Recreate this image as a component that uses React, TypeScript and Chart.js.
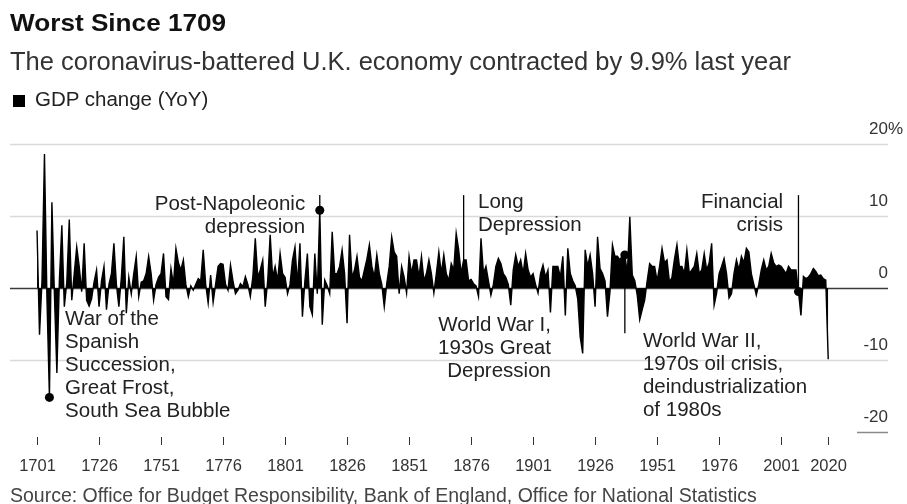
import React, { useEffect, useRef } from "react";
import { Chart, registerables } from "chart.js";

Chart.register(...registerables);

const FONT = "'Liberation Sans', Arial, Helvetica, sans-serif";

// ---------------- data ----------------
const firstYear = 1701;

// UK GDP change, % year on year, 1701 .. 2020
const gdpChange: number[] = [
  // 1701-1710
  8.0, -6.5, 1.0, 18.6, -1.5, -15.2, 11.9, -0.8, -11.8, 1.0,
  // 1711-1720
  8.7, -2.6, 0.8, 9.5, -1.7, 2.0, 5.7, 3.0, -0.5, 6.2,
  // 1721-1730
  -1.7, -2.5, -1.5, 0.8, 2.5, -2.6, 1.0, 3.0, -3.0, 0.5,
  // 1731-1740
  2.0, 6.2, 0.5, -2.6, 1.5, 7.1, -3.5, 1.5, -0.8, 2.0,
  // 1741-1750
  4.4, -1.2, 0.8, 1.0, 2.0, 4.4, 2.0, -1.7, 0.5, 1.5,
  // 1751-1760
  2.0, 4.8, -1.2, -1.6, 2.7, 0.5, 5.5, 3.5, 2.5, 3.9,
  // 1761-1770
  0.5, -1.2, 0.3, -0.3, 0.5, 1.3, 1.0, 5.3, 0.5, -2.1,
  // 1771-1780
  1.8, -2.0, 0.5, 3.0, 3.4, 3.3, 0.5, -0.3, 3.2, 1.0,
  // 1781-1790
  -0.8, -0.3, 0.6, 0.2, 1.6, 0.5, -1.2, 1.5, 6.9, 1.5,
  // 1791-1800
  2.5, 3.9, -2.6, 1.0, 7.4, 1.5, 3.0, 1.0, 4.8, 2.0,
  // 1801-1810
  1.5, -0.8, 0.5, 3.9, 5.7, 0.5, 6.2, -4.0, 1.0, 4.8,
  // 1811-1820
  -2.6, -3.7, 4.8, -0.8, 10.8, -5.1, 1.1, 0.3, -0.8, 7.8,
  // 1821-1830
  2.0, 2.0, 3.0, 5.3, 2.0, -4.9, 7.4, 1.5, 2.5, 4.4,
  // 1831-1840
  1.5, 1.0, 2.5, 4.0, 6.0, 3.0, 1.5, 4.6, 2.0, 0.5,
  // 1841-1850
  -2.6, 0.6, 3.0, 7.1, 5.0, 4.4, -0.8, 3.0, 1.5, -0.7,
  // 1851-1860
  4.4, 2.0, 3.9, 3.9, 1.5, 4.4, 1.0, 2.0, 3.9, 2.0,
  // 1861-1870
  -0.7, 2.0, 5.0, 2.0, 4.6, 2.0, 1.0, 3.4, 2.5, 7.6,
  // 1871-1880
  5.3, 2.0, 3.9, 3.9, 1.0, 1.2, 0.6, 0.3, -1.2, 6.9,
  // 1881-1890
  2.0, 3.0, 1.0, -1.0, 0.5, 3.0, 4.1, 3.4, 2.0, 1.5,
  // 1891-1900
  0.5, -2.4, 2.5, 4.6, 3.0, 3.9, 2.0, 4.8, 2.5, 1.5,
  // 1901-1910
  2.0, 0.5, -0.7, 2.0, 3.2, 1.5, 2.5, -3.4, 3.0, 3.0,
  // 1911-1920
  3.0, 1.5, 4.4, -3.8, 5.5, 2.0, 1.0, 0.3, -1.5, -6.8,
  // 1921-1930
  -9.1, 5.3, 3.0, 4.6, 2.0, -2.6, 7.1, 2.7, 2.0, 1.0,
  // 1931-1940
  -4.0, -0.5, 6.0, 4.4, 4.4, 3.9, 4.5, 4.6, 2.0, 9.9,
  // 1941-1950
  1.8, 1.0, -1.0, -4.4, -3.0, -1.7, 1.0, 3.4, 3.0, 3.0,
  // 1951-1960
  1.0, 3.0, 5.5, 3.5, 3.9, 0.8, 1.5, 4.0, 6.0, 3.0,
  // 1961-1970
  3.0, 2.0, 5.3, 2.0, 2.5, 3.0, 4.8, 2.0, 2.5, 4.8,
  // 1971-1980
  2.5, 3.5, 6.2, -2.4, -0.7, 2.0, 3.0, 4.1, 2.0, -1.4,
  // 1981-1990
  -0.8, 2.0, 3.9, 2.5, 4.4, 3.5, 5.5, 5.0, 2.0, 0.5,
  // 1991-2000
  -1.0, 0.5, 2.5, 3.9, 2.5, 3.0, 4.8, 3.5, 3.0, 3.2,
  // 2001-2010
  3.0, 2.5, 2.0, 3.0, 2.5, 2.5, 2.5, -0.5, -3.8, 1.6,
  // 2011-2020
  1.3, 1.5, 2.0, 2.7, 2.3, 1.7, 1.8, 1.3, 1.1, -9.9,
];

const years: number[] = gdpChange.map((_, i) => firstYear + i);

const xTickYears = [1701, 1726, 1751, 1776, 1801, 1826, 1851, 1876, 1901, 1926, 1951, 1976, 2001, 2020];
const yGridValues = [20, 10, 0, -10];
const yTickValues = [20, 10, 0, -10, -20];
const yTickLabels = ["20", "10", "0", "-10", "-20"];

type Note = {
  year: number;
  value: number;
  lineTo: number | null;
  dot: boolean;
  lines: string[];
  align: "left" | "right";
  textYear: number;
  textValue: number;
};

const notes: Note[] = [
  { year: 1706, value: -15.2, lineTo: null, dot: true, lines: ["War of the", "Spanish", "Succession,", "Great Frost,", "South Sea Bubble"], align: "left", textYear: 1712.3, textValue: -5.14 },
  { year: 1815, value: 10.8, lineTo: 12.9, dot: true, lines: ["Post-Napoleonic", "depression"], align: "right", textYear: 1809.1, textValue: 10.83 },
  { year: 1873, value: 0, lineTo: 12.9, dot: false, lines: ["Long", "Depression"], align: "left", textYear: 1878.8, textValue: 11.1 },
  { year: 1920, value: 0, lineTo: null, dot: false, lines: ["World War I,", "1930s Great", "Depression"], align: "right", textYear: 1908.2, textValue: -5.97 },
  { year: 1938, value: 4.6, lineTo: -6.3, dot: true, lines: ["World War II,", "1970s oil crisis,", "deindustrialization", "of 1980s"], align: "left", textYear: 1945.3, textValue: -8.2 },
  { year: 2008, value: -0.5, lineTo: 12.9, dot: true, lines: ["Financial", "crisis"], align: "right", textYear: 2001.8, textValue: 11.1 },
];

// ---------------- drawing ----------------
const overlay = {
  id: "overlay",
  beforeDatasetsDraw(chart: any) {
    const { ctx, chartArea, scales } = chart;
    const y = scales.y;
    ctx.save();
    yGridValues.forEach((v) => {
      const py = Math.round(y.getPixelForValue(v)) + 0.5;
      ctx.strokeStyle = v === 0 ? "#3a3a3a" : "#d9d9d9";
      ctx.lineWidth = v === 0 ? 1.3 : 1.5;
      ctx.beginPath();
      ctx.moveTo(chartArea.left, py);
      ctx.lineTo(chartArea.right, py);
      ctx.stroke();
    });
    const pm20 = Math.round(y.getPixelForValue(-20)) + 0.5;
    ctx.strokeStyle = "#8a8a8a";
    ctx.lineWidth = 1.5;
    ctx.beginPath();
    ctx.moveTo(chartArea.right - 31, pm20);
    ctx.lineTo(chartArea.right, pm20);
    ctx.stroke();
    ctx.restore();
  },
  afterDatasetsDraw(chart: any) {
    const { ctx, chartArea, scales } = chart;
    const x = scales.x;
    const y = scales.y;
    ctx.save();

    // y labels (right side, above grid lines)
    ctx.fillStyle = "#333";
    ctx.font = `17px ${FONT}`;
    ctx.textBaseline = "alphabetic";
    yTickValues.forEach((v, i) => {
      const py = y.getPixelForValue(v) - 10;
      ctx.textAlign = "right";
      ctx.fillText(yTickLabels[i], chartArea.right, py);
      if (i === 0) {
        ctx.textAlign = "left";
        ctx.fillText("%", chartArea.right, py);
      }
    });

    // x ticks and labels
    ctx.strokeStyle = "#333";
    ctx.lineWidth = 1;
    ctx.font = `16.5px ${FONT}`;
    ctx.textAlign = "center";
    xTickYears.forEach((yr) => {
      const px = Math.round(x.getPixelForValue(yr)) + 0.5;
      ctx.beginPath();
      ctx.moveTo(px, chartArea.bottom + 5);
      ctx.lineTo(px, chartArea.bottom + 13);
      ctx.stroke();
      ctx.fillText(String(yr), px, chartArea.bottom + 39);
    });

    // annotations
    ctx.strokeStyle = "#000";
    ctx.fillStyle = "#000";
    ctx.lineWidth = 1.3;
    notes.forEach((n) => {
      const ax = x.getPixelForValue(n.year);
      const ay = y.getPixelForValue(n.value);
      if (n.lineTo !== null) {
        ctx.beginPath();
        ctx.moveTo(ax, ay);
        ctx.lineTo(ax, y.getPixelForValue(n.lineTo));
        ctx.stroke();
      }
      if (n.dot) {
        ctx.beginPath();
        ctx.arc(ax, ay, 4.5, 0, Math.PI * 2);
        ctx.fill();
      }
    });
    ctx.fillStyle = "#222";
    ctx.font = `20.5px ${FONT}`;
    notes.forEach((n) => {
      const tx = x.getPixelForValue(n.textYear);
      const ty = y.getPixelForValue(n.textValue);
      ctx.textAlign = n.align;
      n.lines.forEach((line, k) => {
        ctx.fillText(line, tx, ty + k * 23);
      });
    });
    ctx.restore();
  },
};

export default function App() {
  const ref = useRef<HTMLCanvasElement>(null);

  useEffect(() => {
    if (!ref.current) return;
    const chart = new Chart(ref.current, {
      type: "line",
      data: {
        datasets: [
          {
            label: "GDP change (YoY)",
            data: years.map((yr, i) => ({ x: yr, y: gdpChange[i] })),
            borderColor: "#000",
            backgroundColor: "#000",
            borderWidth: 1.4,
            pointRadius: 0,
            tension: 0,
            fill: "origin",
          },
        ],
      },
      options: {
        responsive: false,
        maintainAspectRatio: false,
        animation: false,
        events: [],
        layout: { padding: { left: 10, right: 19, top: 144, bottom: 72 } },
        plugins: { legend: { display: false }, tooltip: { enabled: false }, title: { display: false } },
        scales: {
          x: { type: "linear", min: 1690.1, max: 2044.1, display: false },
          y: { type: "linear", min: -20, max: 20, display: false },
        },
      },
      plugins: [overlay],
    });
    return () => chart.destroy();
  }, []);

  return (
    <div
      style={{
        position: "fixed",
        left: 0,
        top: 0,
        width: 907,
        height: 504,
        background: "#fff",
        overflow: "hidden",
        fontFamily: FONT,
      }}
    >
      <canvas ref={ref} width={907} height={504} style={{ position: "absolute", left: 0, top: 0, width: 907, height: 504 }} />
      <div
        style={{
          position: "absolute",
          left: 10,
          top: 11,
          fontSize: 24,
          lineHeight: "24px",
          fontWeight: 700,
          color: "#111",
          whiteSpace: "nowrap",
          transform: "scaleX(1.09)",
          transformOrigin: "left top",
        }}
      >
        Worst Since 1709
      </div>
      <div style={{ position: "absolute", left: 10, top: 49.4, fontSize: 25.5, lineHeight: "25.5px", color: "#333", whiteSpace: "nowrap" }}>
        The coronavirus-battered U.K. economy contracted by 9.9% last year
      </div>
      <div style={{ position: "absolute", left: 12.5, top: 95, width: 12, height: 12, background: "#000" }} />
      <div style={{ position: "absolute", left: 35, top: 88.6, fontSize: 20.5, lineHeight: "20.5px", color: "#222", whiteSpace: "nowrap" }}>
        GDP change (YoY)
      </div>
      <div style={{ position: "absolute", left: 10, top: 485.5, fontSize: 19.5, lineHeight: "19.5px", color: "#444", whiteSpace: "nowrap" }}>
        Source: Office for Budget Responsibility, Bank of England, Office for National Statistics
      </div>
    </div>
  );
}
